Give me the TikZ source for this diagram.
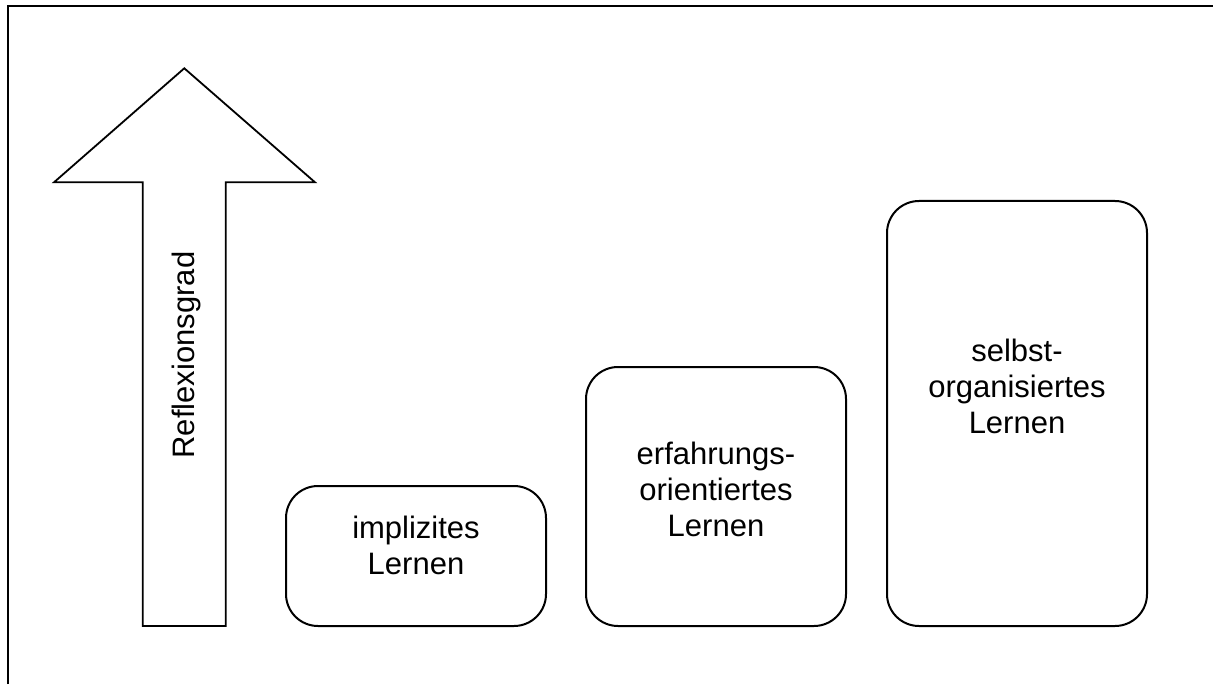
\documentclass[tikz,border=0pt]{standalone}
\usepackage{fontspec}
\setmainfont{Liberation Sans}
\begin{document}
\begin{tikzpicture}[x=0.5pt,y=-0.5pt,line join=miter]
\tikzset{
  lbox/.style={draw, line width=1pt, rounded corners=16pt, minimum width=130pt, inner sep=0pt},
  ltext/.style={align=center, font=\fontsize{15.5}{18}\selectfont, inner sep=0pt},
  frameline/.style={line width=1pt},
  bigarrow/.style={line width=0.9pt}
}
\useasboundingbox (0,0) rectangle (1213,684);
% frame
\coordinate (fbl) at (8,684);
\coordinate (ftl) at (8,6);
\coordinate (ftr) at (1213,6);
\draw[frameline] (fbl) -- (ftl) -- (ftr);
% big arrow
\coordinate (a1) at (142.7,626);
\coordinate (a2) at (142.7,182.3);
\coordinate (a3) at (54,182.3);
\coordinate (a4) at (184.3,68.3);
\coordinate (a5) at (315,182.3);
\coordinate (a6) at (225.7,182.3);
\coordinate (a7) at (225.7,626);
\draw[bigarrow] (a1) -- (a2) -- (a3) -- (a4) -- (a5) -- (a6) -- (a7) -- cycle;
\node[rotate=90, anchor=base, font=\fontsize{15.5}{18}\selectfont, inner sep=0pt] (refl) at (194,355) {Reflexionsgrad};
% boxes
\node[lbox, minimum height=70pt] (b1) at (416,556) {};
\node[lbox, minimum height=129.5pt] (b2) at (716,496.5) {};
\node[lbox, minimum height=212.5pt] (b3) at (1017,413.5) {};
\node[ltext] (t1) at (416,545.5) {implizites\\Lernen};
\node[ltext] (t2) at (716,489.75) {erfahrungs-\\orientiertes\\Lernen};
\node[ltext] (t3) at (1017,386.6) {selbst-\\organisiertes\\Lernen};
\end{tikzpicture}
\end{document}
